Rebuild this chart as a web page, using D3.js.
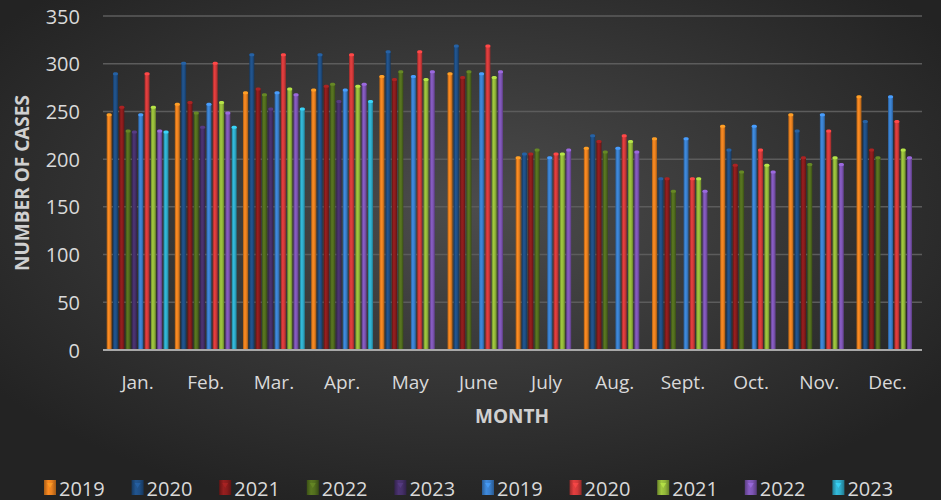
<!DOCTYPE html>
<html>
<head>
<meta charset="utf-8">
<script src="https://cdn.jsdelivr.net/npm/d3@7"></script>
<style>
  html, body { margin: 0; padding: 0; background: #2a2a2a; }
  #chart { width: 941px; height: 500px; }
  text { font-family: "Open Sans", "Noto Sans", sans-serif; }
</style>
</head>
<body>
<div id="chart"></div>
<script>
const months = ["Jan.", "Feb.", "Mar.", "Apr.", "May", "June", "July", "Aug.", "Sept.", "Oct.", "Nov.", "Dec."];
const cases2019 = [247, 258, 270, 273, 287, 290, 202, 212, 222, 235, 247, 266];
const cases2020 = [290, 301, 310, 310, 313, 319, 206, 225, 180, 210, 230, 240];
const cases2021 = [255, 260, 274, 277, 284, 286, 206, 219, 180, 194, 202, 210];
const cases2022 = [230, 249, 268, 279, 292, 292, 210, 208, 167, 187, 195, 202];
const cases2023 = [229, 234, 253, 261, null, null, null, null, null, null, null, null];
const yTicks = [0, 50, 100, 150, 200, 250, 300, 350];

// two sets of the same five years, second set in lighter colours
const series = [
    { name: "2019", color: "#e8801f", values: cases2019 },
    { name: "2020", color: "#1f4f85", values: cases2020 },
    { name: "2021", color: "#8a1c1c", values: cases2021 },
    { name: "2022", color: "#526e1e", values: cases2022 },
    { name: "2023", color: "#46306a", values: cases2023 },
    { name: "2019", color: "#3a7fcc", values: cases2019 },
    { name: "2020", color: "#d23a3a", values: cases2020 },
    { name: "2021", color: "#93b83a", values: cases2021 },
    { name: "2022", color: "#7d55b3", values: cases2022 },
    { name: "2023", color: "#2fabc9", values: cases2023 }
];

document.addEventListener('DOMContentLoaded', () => {
    const width = 941, height = 500;
    const svg = d3.select("#chart").append("svg")
        .attr("width", width)
        .attr("height", height);

    const defs = svg.append("defs");
    const bg = defs.append("radialGradient").attr("id", "bg")
        .attr("cx", "50%").attr("cy", "42%").attr("r", "62%");
    bg.append("stop").attr("offset", "0%").attr("stop-color", "#4c4c4c");
    bg.append("stop").attr("offset", "100%").attr("stop-color", "#232323");

    series.forEach((s, i) => {
        const c = d3.color(s.color);
        const g = defs.append("linearGradient").attr("id", "bar" + i)
            .attr("x1", 0).attr("x2", 1).attr("y1", 0).attr("y2", 0);
        g.append("stop").attr("offset", "0%").attr("stop-color", c.darker(0.9));
        g.append("stop").attr("offset", "35%").attr("stop-color", c.brighter(0.25));
        g.append("stop").attr("offset", "65%").attr("stop-color", c);
        g.append("stop").attr("offset", "100%").attr("stop-color", c.darker(1));
    });

    svg.append("rect").attr("width", width).attr("height", height).attr("fill", "url(#bg)");

    const x = d3.scaleBand().domain(months).range([103, 922])
        .paddingInner(0.055).paddingOuter(0.035);
    const xs = d3.scaleBand().domain(d3.range(series.length)).range([0, x.bandwidth()])
        .padding(0.2);
    const y = d3.scaleLinear().domain([0, 350]).range([350, 16]);

    // gridlines
    svg.append("g").selectAll("line")
        .data(yTicks.filter(t => t > 0))
        .join("line")
        .attr("x1", 103).attr("x2", 922)
        .attr("y1", d => y(d)).attr("y2", d => y(d))
        .attr("stroke", "#5c5c5c").attr("stroke-width", 1.5);

    // y tick labels
    svg.append("g").selectAll("text")
        .data(yTicks)
        .join("text")
        .attr("x", 80).attr("y", d => y(d))
        .attr("text-anchor", "end").attr("dominant-baseline", "central")
        .attr("fill", "#d9d9d9").attr("font-size", 20)
        .text(d => d);

    // bars
    const groups = svg.append("g").selectAll("g")
        .data(series)
        .join("g");

    groups.each(function(s, i) {
        const pts = months.map((m, j) => ({ m, v: s.values[j] })).filter(d => d.v != null);
        const g = d3.select(this);
        g.selectAll("rect.bar")
            .data(pts)
            .join("rect")
            .attr("class", "bar")
            .attr("x", d => x(d.m) + xs(i))
            .attr("y", d => y(d.v))
            .attr("width", xs.bandwidth())
            .attr("height", d => y(0) - y(d.v))
            .attr("fill", "url(#bar" + i + ")");
        g.selectAll("rect.cap")
            .data(pts)
            .join("rect")
            .attr("class", "cap")
            .attr("x", d => x(d.m) + xs(i))
            .attr("y", d => y(d.v) - 1)
            .attr("width", xs.bandwidth())
            .attr("height", 3)
            .attr("rx", 1.5)
            .attr("fill", d3.color(s.color).brighter(0.6));
    });

    // baseline
    svg.append("line")
        .attr("x1", 103).attr("x2", 922)
        .attr("y1", y(0)).attr("y2", y(0))
        .attr("stroke", "#a8a8a8").attr("stroke-width", 2);

    // month labels
    svg.append("g").selectAll("text")
        .data(months)
        .join("text")
        .attr("x", d => x(d) + x.bandwidth() / 2)
        .attr("y", 389)
        .attr("text-anchor", "middle")
        .attr("fill", "#d9d9d9").attr("font-size", 19)
        .text(d => d);

    // axis titles
    svg.append("text")
        .attr("x", 512).attr("y", 423)
        .attr("text-anchor", "middle")
        .attr("fill", "#d0d0d0").attr("font-size", 19).attr("font-weight", "bold")
        .text("MONTH");
    svg.append("text")
        .attr("transform", "translate(29,183) rotate(-90)")
        .attr("text-anchor", "middle")
        .attr("fill", "#d0d0d0").attr("font-size", 19).attr("font-weight", "bold")
        .text("NUMBER OF CASES");

    // legend
    const legend = svg.append("g").selectAll("g")
        .data(series)
        .join("g")
        .attr("transform", (d, i) => `translate(${44 + i * 87.6},480)`);
    legend.append("rect")
        .attr("width", 12).attr("height", 15)
        .attr("fill", (d, i) => "url(#bar" + i + ")");
    legend.append("path")
        .attr("d", "M3,3 L9,3 L6,8 Z")
        .attr("fill", d => d3.color(d.color).brighter(0.7))
        .attr("opacity", 0.7);
    legend.append("text")
        .attr("x", 15).attr("y", 8)
        .attr("dominant-baseline", "central")
        .attr("fill", "#d9d9d9").attr("font-size", 20)
        .text(d => d.name);
});
</script>
</body>
</html>
